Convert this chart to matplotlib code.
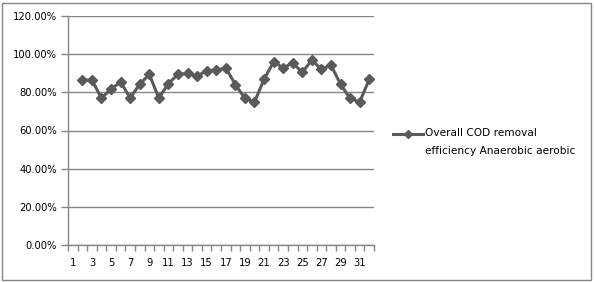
import matplotlib
matplotlib.use("Agg")
import matplotlib.pyplot as plt
from matplotlib.patches import Rectangle
from matplotlib.lines import Line2D
import numpy as np

categories = list(range(1, 33))
x_values = list(range(2, 33))
efficiency = [86.4, 86.4, 77.0, 81.7, 85.5, 77.0, 84.3, 89.4, 77.0, 84.6,
              89.4, 89.9, 88.5, 91.3, 91.6, 92.8, 84.1, 76.8, 74.9, 86.8,
              96.0, 92.8, 95.4, 90.5, 96.9, 92.0, 94.2, 84.3, 76.8, 74.9, 86.8]
series_label_lines = ["Overall COD removal", "efficiency Anaerobic aerobic"]
ytick_vals = [0, 20, 40, 60, 80, 100, 120]
ytick_labels = ["0.00%", "20.00%", "40.00%", "60.00%", "80.00%", "100.00%", "120.00%"]
xtick_labels = [str(c) for c in categories if c % 2 == 1]

plt.rcParams['font.family'] = ['DejaVu Sans']
W, H = 594, 282
fig = plt.figure(figsize=(W / 100, H / 100), dpi=100)
fig.patches.append(Rectangle((2 / W, 2 / H), 1 - 5 / W, 1 - 5 / H, transform=fig.transFigure,
                             fill=False, edgecolor='#868686', linewidth=1))

ax = fig.add_axes([68 / W, 1 - 245 / H, (374 - 68) / W, (245 - 16) / H])
gray = '#868686'
line_col = '#5a5a5a'
fs = 7.2

ax.plot(x_values, efficiency, color=line_col, linewidth=2.2, marker='D', markersize=5,
        markerfacecolor=line_col, markeredgecolor=line_col,
        label=" ".join(series_label_lines), zorder=3)

ax.set_xlim(0.5, 32.5)
ax.set_ylim(0, 120)
ax.set_yticks(ytick_vals)
ax.set_yticklabels(ytick_labels)
ax.yaxis.grid(True, color=gray, linewidth=1)
ax.set_axisbelow(True)

boundaries = np.arange(0.5, 33, 1)
ax.set_xticks(boundaries)
ax.set_xticklabels([''] * len(boundaries))
ax.set_xticks([c for c in categories if c % 2 == 1], minor=True)
ax.set_xticklabels(xtick_labels, minor=True)
ax.tick_params(axis='x', which='major', length=4, color=gray, width=1)
ax.tick_params(axis='x', which='minor', length=0, pad=9, labelsize=fs)
ax.tick_params(axis='y', length=5, color=gray, width=1, labelsize=fs, pad=3)

for s in ['top', 'right']:
    ax.spines[s].set_visible(False)
for s in ['left', 'bottom']:
    ax.spines[s].set_color(gray)
    ax.spines[s].set_linewidth(1)

# legend (handle aligned with first text line, as in the reference)
ly = 1 - 134 / H
fig.lines.append(Line2D([393 / W, 423 / W], [ly, ly], transform=fig.transFigure,
                        color=line_col, linewidth=2.2))
fig.lines.append(Line2D([408 / W], [ly], transform=fig.transFigure, color=line_col,
                        marker='D', markersize=4.5, markerfacecolor=line_col,
                        markeredgecolor=line_col))
for i, txt in enumerate(series_label_lines):
    fig.text(425 / W, 1 - (133 + 18 * i) / H, txt, fontsize=7.6, va='center', ha='left',
             transform=fig.transFigure)

fig.savefig("out.png", dpi=100)
